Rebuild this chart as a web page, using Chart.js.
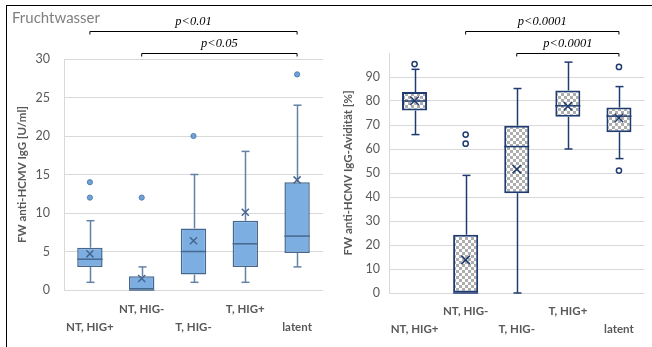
<!DOCTYPE html>
<html>
<head>
<meta charset="utf-8">
<script src="https://cdn.jsdelivr.net/npm/chart.js@4/dist/chart.umd.min.js"></script>
<style>
  html, body { margin: 0; padding: 0; background: #fff; }
  #wrap { position: relative; width: 652px; height: 347px; overflow: hidden; background: #fff; }
  #c1 { position: absolute; left: 0; top: 0; }
  #c2 { position: absolute; left: 330px; top: 0; }
  #frame { position: absolute; left: 6px; top: 5px; width: 700px; height: 400px;
           border-left: 1.5px solid #000; border-top: 1.5px solid #000; }
  #title { position: absolute; left: 12px; top: 8px; font: 15px Lato, "Open Sans", sans-serif; color: #7f7f7f; }
</style>
</head>
<body>
<div id="wrap">
  <canvas id="c1" width="330" height="347"></canvas>
  <canvas id="c2" width="322" height="347"></canvas>
  <div id="frame"></div>
  <div id="title">Fruchtwasser</div>
</div>
<script>
// Groups
const categories = ['NT, HIG+', 'NT, HIG-', 'T, HIG-', 'T, HIG+', 'latent'];

// FW anti-HCMV IgG [U/ml]
const iggMin      = [1, 0, 1, 1, 3];
const iggQ1       = [3, 0, 2, 3, 4.8];
const iggMedian   = [4, 0, 5, 6, 7];
const iggQ3       = [5.5, 1.8, 8, 9, 14];
const iggMax      = [9, 3, 15, 18, 24];
const iggMean     = [4.7, 1.5, 6.4, 10.1, 14.3];
const iggOutliers = [[12, 14], [12], [20], [], [28]];
const iggTicks    = [0, 5, 10, 15, 20, 25, 30];
const iggPairs    = [[0, 4], [1, 4]];
const iggPLabels  = ['p<0.01', 'p<0.05'];

// FW anti-HCMV IgG-Avidität [%]
const avMin      = [66, 0, 0, 60, 56];
const avQ1       = [76, 0, 41.6, 73.4, 67];
const avMedian   = [80, 0, 61, 78, 73.7];
const avQ3       = [83.7, 24.3, 69.7, 84.4, 77.3];
const avMax      = [93.2, 49, 85.2, 96.2, 86];
const avMean     = [80.1, 13.8, 51.6, 77.8, 72.9];
const avOutliers = [[95.4], [62.2, 66], [], [], [51, 94.2]];
const avTicks    = [0, 10, 20, 30, 40, 50, 60, 70, 80, 90];
const avPairs    = [[1, 4], [2, 4]];
const avPLabels  = ['p<0.0001', 'p<0.0001'];

const FONT = 'Lato, "Open Sans", sans-serif';
Chart.defaults.font.family = FONT;

function checkerPattern() {
  const c = document.createElement('canvas');
  c.width = c.height = 6;
  const g = c.getContext('2d');
  g.fillStyle = '#ffffff'; g.fillRect(0, 0, 6, 6);
  g.fillStyle = '#ADADAD'; g.fillRect(0, 0, 3, 3); g.fillRect(3, 3, 3, 3);
  return g.createPattern(c, 'repeat');
}

// whiskers, medians and significance brackets drawn on the chart's own scales
const boxExtras = {
  id: 'boxExtras',
  beforeDatasetsDraw(chart, args, o) {
    const { ctx, scales: { x, y } } = chart;
    ctx.save();
    ctx.strokeStyle = o.whiskerColor;
    ctx.lineWidth = o.lineWidth;
    o.q1.forEach((q, i) => {
      const cx = Math.round(x.getPixelForValue(i)) + 0.5;
      const segs = [[o.q3[i], o.max[i]], [q, o.min[i]]];
      segs.forEach(([from, to]) => {
        if (from === to) return;
        const y0 = y.getPixelForValue(from), y1 = y.getPixelForValue(to);
        ctx.beginPath(); ctx.moveTo(cx, y0); ctx.lineTo(cx, y1); ctx.stroke();
        ctx.beginPath(); ctx.moveTo(cx - o.cap, y1); ctx.lineTo(cx + o.cap, y1); ctx.stroke();
      });
    });
    ctx.restore();
  },
  afterDatasetDraw(chart, args, o) {
    if (args.index !== 0) return;
    const { ctx, scales: { y } } = chart;
    const bars = chart.getDatasetMeta(0).data;
    ctx.save();
    ctx.strokeStyle = o.boxColor;
    ctx.lineWidth = o.lineWidth;
    o.median.forEach((m, i) => {
      const b = bars[i];
      const my = y.getPixelForValue(m);
      ctx.beginPath(); ctx.moveTo(b.x - b.width / 2, my); ctx.lineTo(b.x + b.width / 2, my); ctx.stroke();
    });
    ctx.restore();
  },
  afterDraw(chart, args, o) {
    const { ctx, scales: { x } } = chart;
    ctx.save();
    o.pairs.forEach(([a, b], k) => {
      const xa = x.getPixelForValue(a), xb = x.getPixelForValue(b);
      const by = o.bracketY[k] + 0.5;
      ctx.strokeStyle = '#000'; ctx.lineWidth = 1;
      ctx.beginPath();
      ctx.moveTo(xa, by + 3); ctx.lineTo(xa, by); ctx.lineTo(xb, by); ctx.lineTo(xb, by + 3);
      ctx.stroke();
      ctx.fillStyle = '#000';
      ctx.font = 'italic 12.5px "Liberation Serif", "Times New Roman", serif';
      ctx.textAlign = 'center'; ctx.textBaseline = 'middle';
      ctx.fillText(o.labels[k], (xa + xb) / 2, by - 10);
    });
    ctx.restore();
  }
};

function boxChart(canvas, s) {
  const outlierPts = [];
  s.outliers.forEach((arr, i) => arr.forEach(v => outlierPts.push({ x: categories[i], y: v })));
  return new Chart(canvas, {
    type: 'bar',
    data: {
      labels: categories,
      datasets: [
        {
          type: 'bar',
          data: s.q1.map((v, i) => [v, s.q3[i]]),
          backgroundColor: s.fill,
          borderColor: s.boxColor,
          borderWidth: s.boxBorder,
          borderSkipped: false,
          barPercentage: 0.49,
          categoryPercentage: 1,
          order: 3
        },
        {
          type: 'line',
          data: outlierPts,
          showLine: false,
          pointStyle: 'circle',
          pointRadius: s.outlierRadius,
          pointBackgroundColor: s.outlierFill,
          pointBorderColor: s.outlierBorder,
          pointBorderWidth: s.outlierBorderWidth,
          order: 1
        },
        {
          type: 'line',
          data: s.mean,
          showLine: false,
          pointStyle: 'crossRot',
          pointRadius: s.meanRadius,
          pointBorderColor: s.meanColor,
          pointBorderWidth: 1.5,
          order: 0
        }
      ]
    },
    options: {
      responsive: false,
      animation: false,
      events: [],
      layout: { padding: s.padding },
      plugins: {
        legend: { display: false },
        tooltip: { enabled: false },
        boxExtras: {
          q1: s.q1, q3: s.q3, min: s.min, max: s.max, median: s.median,
          whiskerColor: s.whiskerColor, boxColor: s.boxColor, lineWidth: 1.5, cap: 4,
          pairs: s.pairs, labels: s.pLabels, bracketY: [31, 53]
        }
      },
      scales: {
        x: {
          grid: { display: false, drawTicks: false },
          border: { display: false },
          afterFit: sc => { sc.height = s.xHeight; },
          ticks: {
            autoSkip: false, maxRotation: 0, minRotation: 0,
            padding: s.xPad,
            color: '#595959',
            font: { size: 11.5, weight: 'bold', lineHeight: 1.5 },
            callback: (v, i) => (i % 2 ? [categories[i], ''] : ['', categories[i]])
          }
        },
        y: {
          min: 0, max: s.yMax,
          afterBuildTicks: sc => { sc.ticks = s.ticks.map(v => ({ value: v })); },
          afterFit: sc => { sc.width = s.yWidth; },
          grid: { color: '#D9D9D9', lineWidth: 1, drawTicks: false },
          border: { color: '#D9D9D9', width: 1 },
          ticks: { padding: s.yPad, color: '#595959', font: { size: 12.5 } },
          title: {
            display: true, text: s.yTitle, color: '#595959',
            font: { size: 11.5, weight: 'bold', lineHeight: 1.2 },
            padding: { top: s.titlePad, bottom: 0 }
          }
        }
      }
    },
    plugins: [boxExtras]
  });
}

boxChart(document.getElementById('c1'), {
  q1: iggQ1, q3: iggQ3, min: iggMin, max: iggMax, median: iggMedian, mean: iggMean,
  outliers: iggOutliers, ticks: iggTicks, pairs: iggPairs, pLabels: iggPLabels,
  yMax: 30, yTitle: 'FW anti-HCMV IgG [U/ml]',
  fill: '#7CAEE2', boxColor: '#46688F', boxBorder: 1.5, whiskerColor: '#6482A6',
  meanColor: '#46688F', meanRadius: 5,
  outlierRadius: 2.6, outlierFill: '#6EA2D8', outlierBorder: '#5580B0', outlierBorderWidth: 1,
  padding: { left: 0, top: 59, right: 7, bottom: 0 },
  yWidth: 64, xHeight: 57, yPad: 14, xPad: 11, titlePad: 15.5
});

boxChart(document.getElementById('c2'), {
  q1: avQ1, q3: avQ3, min: avMin, max: avMax, median: avMedian, mean: avMean,
  outliers: avOutliers, ticks: avTicks, pairs: avPairs, pLabels: avPLabels,
  yMax: 100, yTitle: 'FW anti-HCMV IgG-Avidität [%]',
  fill: checkerPattern(), boxColor: '#1F3B70', boxBorder: 2, whiskerColor: '#1F3B70',
  meanColor: '#1F3B70', meanRadius: 6,
  outlierRadius: 2.6, outlierFill: '#ffffff', outlierBorder: '#1F3B70', outlierBorderWidth: 1.5,
  padding: { left: 0, top: 53, right: 5, bottom: 0 },
  yWidth: 59, xHeight: 54, yPad: 9, xPad: 10, titlePad: 11
});
</script>
</body>
</html>
